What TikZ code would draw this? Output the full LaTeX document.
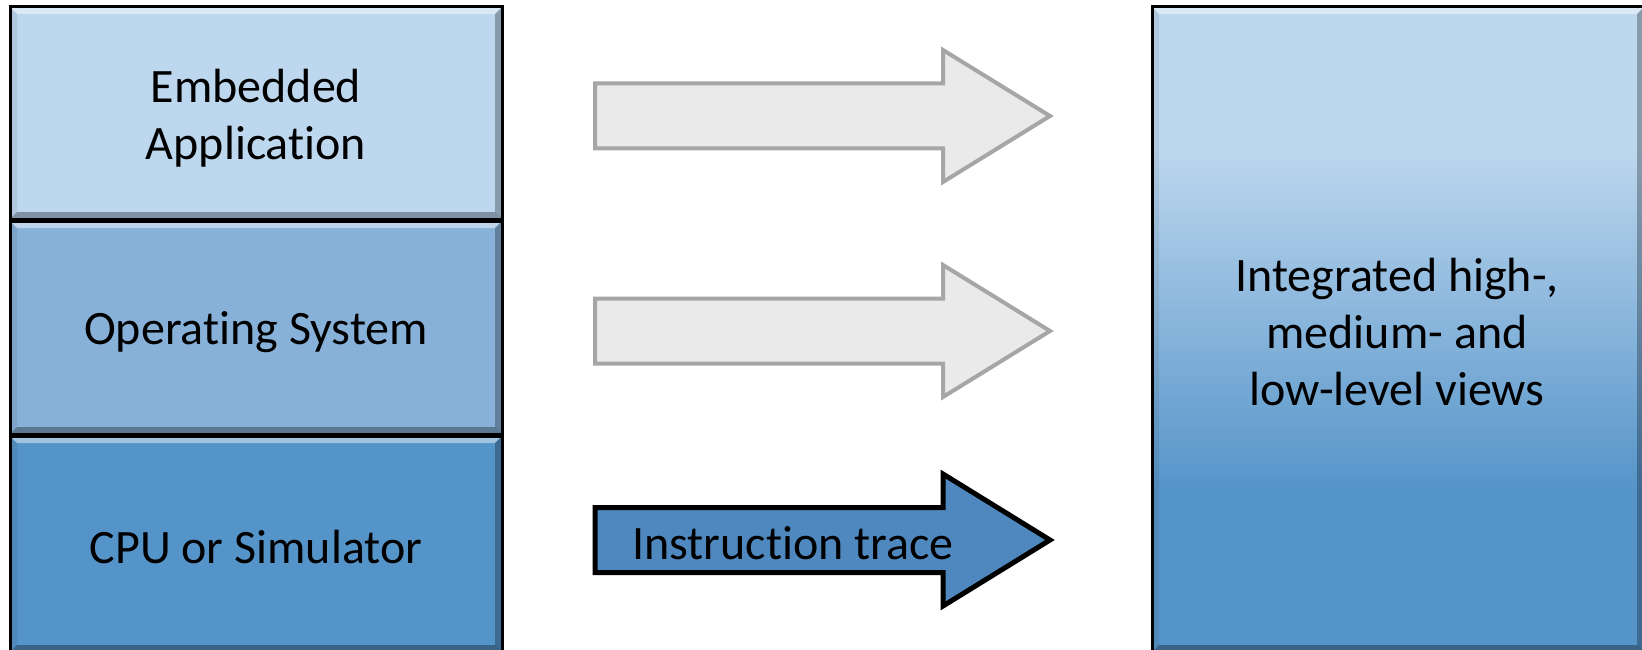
\documentclass[tikz,border=0pt]{standalone}
\usepackage{fontspec}
\setmainfont{Carlito}[RawFeature={-liga}]
\definecolor{boxA}{HTML}{BDD7EE}
\definecolor{boxB}{HTML}{87B1D8}
\definecolor{boxC}{HTML}{5594C9}
\definecolor{arrC}{HTML}{4E88BE}
\definecolor{arrG}{HTML}{EAEAEA}
\definecolor{arrL}{HTML}{A6A6A6}
\newcommand\bevelcode{%
  \fill[white,opacity=.45] (path picture bounding box.north west) -- (path picture bounding box.north east)
     -- ([shift={(-7,7)}]path picture bounding box.north east) -- ([shift={(7,7)}]path picture bounding box.north west) -- cycle;
  \fill[black,opacity=.07] (path picture bounding box.north west) -- ([shift={(7,7)}]path picture bounding box.north west)
     -- ([shift={(7,-7)}]path picture bounding box.south west) -- (path picture bounding box.south west) -- cycle;
  \fill[black,opacity=.28] (path picture bounding box.north east) -- ([shift={(-7,7)}]path picture bounding box.north east)
     -- ([shift={(-7,-7)}]path picture bounding box.south east) -- (path picture bounding box.south east) -- cycle;
  \fill[black,opacity=.32] (path picture bounding box.south west) -- ([shift={(7,-7)}]path picture bounding box.south west)
     -- ([shift={(-7,-7)}]path picture bounding box.south east) -- (path picture bounding box.south east) -- cycle;
}
\newcommand\blkarrow[2]{%
  \draw[#2] (595,#1-32.5) -- (943,#1-32.5) -- (943,#1-66) -- (1050,#1) -- (943,#1+66) -- (943,#1+32.5) -- (595,#1+32.5) -- cycle;
}
\begin{document}
\begin{tikzpicture}[x=1pt,y=-1pt,
  layer/.style={draw=black, line width=3pt, inner sep=0pt, minimum width=492pt, path picture={\bevelcode}},
  greyarrow/.style={fill=arrG, draw=arrL, line width=4pt, line join=miter},
  bluearrow/.style={fill=arrC, draw=black, line width=5pt, line join=miter},
  lbl/.style={font=\fontsize{48}{57}\selectfont, inner sep=0pt, align=center}]
\useasboundingbox (0,0) rectangle (1642,650);
\fill[white] (0,0) rectangle (1642,650);
\node[layer, fill=boxA, minimum height=212pt] (app) at (256,113) {};
\node[layer, fill=boxB, minimum height=213pt] (os) at (256,327.5) {};
\node[layer, fill=boxC, minimum height=216pt] (cpu) at (256,544) {};
\node[layer, minimum height=645pt, path picture={%
   \fill[boxA] (-260,-340) rectangle (260,-179);
   \shade[top color=boxA, bottom color=boxC] (-260,-180) rectangle (260,161);
   \fill[boxC] (-260,160) rectangle (260,340);
   \bevelcode}] (views) at (1398,329.5) {};
\node[lbl] (appt) at (256,118) {Embedded\\Application};
\node[lbl] (ost) at (256,332) {Operating System};
\node[lbl] (cput) at (256,547) {CPU or Simulator};
\node[lbl] (viewst) at (1397,332) {Integrated high-,\\medium- and\\low-level views};
\blkarrow{116}{greyarrow}
\blkarrow{331}{greyarrow}
\blkarrow{540}{bluearrow}
\node[lbl] (trace) at (793,543) {Instruction trace};
\end{tikzpicture}
\end{document}
